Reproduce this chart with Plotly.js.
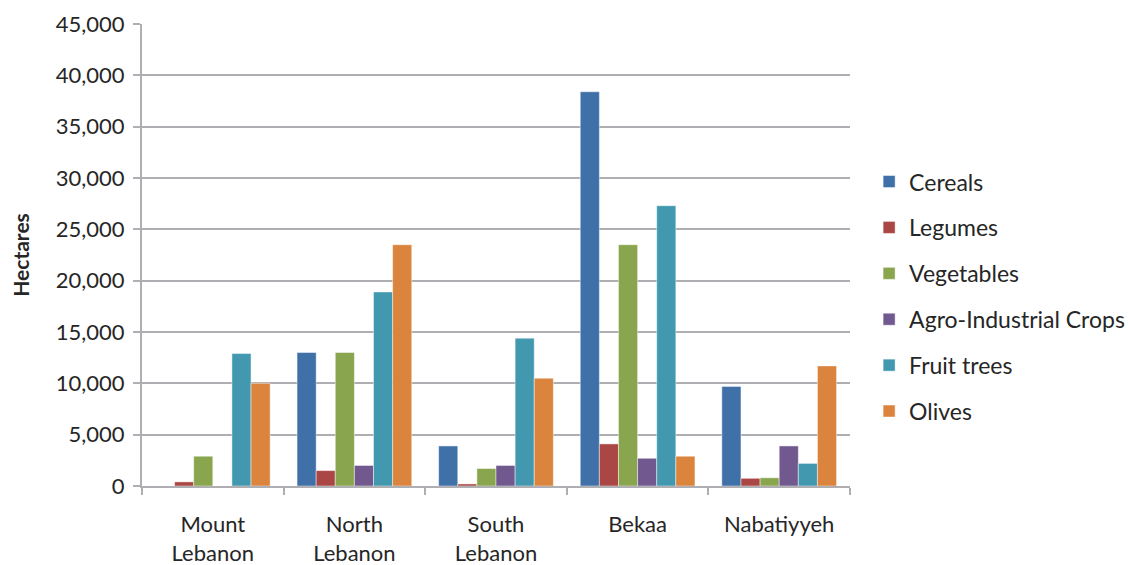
<!DOCTYPE html>
<html>
<head>
<meta charset="utf-8">
<script src="https://cdn.plot.ly/plotly-3.0.1.min.js"></script>
<style>
  html, body { margin: 0; padding: 0; background: #ffffff; }
  #chart { width: 1128px; height: 565px; }
</style>
</head>
<body>
<div id="chart"></div>
<script>
// Cultivated area by governorate and crop group (hectares)
const regions = ["Mount<br>Lebanon", "North<br>Lebanon", "South<br>Lebanon", "Bekaa", "Nabatiyyeh"];

const cereals        = [0,     13000, 3900,  38400, 9700];
const legumes        = [400,   1500,  200,   4100,  750];
const vegetables     = [2900,  13000, 1700,  23500, 800];
const agroIndustrial = [0,     2000,  2000,  2700,  3900];
const fruitTrees     = [12900, 18900, 14400, 27300, 2200];
const olives         = [10000, 23500, 10500, 2900,  11700];

const seriesNames  = ["Cereals", "Legumes", "Vegetables", "Agro-Industrial Crops", "Fruit trees", "Olives"];
const seriesValues = [cereals, legumes, vegetables, agroIndustrial, fruitTrees, olives];
const seriesColors = ["#3F70A8", "#AA4643", "#89A54E", "#71588F", "#4198AF", "#DB843D"];

const yTicks = [0, 5000, 10000, 15000, 20000, 25000, 30000, 35000, 40000, 45000];

const FONT = "Lato, 'Open Sans', sans-serif";
const TEXT = "#262626";
const GREY = "#AFAFB3";

const traces = seriesNames.map((name, i) => ({
  type: "bar",
  name: name,
  legendgroup: "g" + i,
  x: regions,
  y: seriesValues[i],
  marker: { color: seriesColors[i], line: { color: "rgba(255,255,255,0.45)", width: 1 } },
  hoverinfo: "x+y+name"
}));

const layout = {
  width: 1128,
  height: 565,
  margin: { l: 142, r: 278, t: 24, b: 79, autoexpand: false },
  paper_bgcolor: "#ffffff",
  plot_bgcolor: "#ffffff",
  font: { family: FONT, size: 22, color: TEXT },
  barmode: "group",
  bargap: 0.19,
  bargroupgap: 0,
  showlegend: true,
  legend: {
    x: 1.027, y: 0.41, xanchor: "left", yanchor: "middle",
    font: { family: FONT, size: 23, color: TEXT },
    tracegroupgap: 13,
    itemwidth: 30,
    bgcolor: "rgba(0,0,0,0)"
  },
  xaxis: {
    type: "category",
    showgrid: false,
    showline: true,
    linecolor: GREY,
    linewidth: 2,
    ticks: "outside",
    tickson: "boundaries",
    ticklen: 7,
    tickwidth: 2,
    tickcolor: GREY,
    ticklabelstandoff: 18,
    tickfont: { family: FONT, size: 22, color: TEXT },
    fixedrange: true
  },
  yaxis: {
    range: [0, 45000],
    tickvals: yTicks,
    tickformat: ",d",
    showgrid: true,
    gridcolor: GREY,
    gridwidth: 2,
    zeroline: false,
    showline: true,
    linecolor: GREY,
    linewidth: 2,
    ticks: "outside",
    ticklen: 7,
    tickwidth: 2,
    tickcolor: GREY,
    ticklabelstandoff: 4,
    tickfont: { family: FONT, size: 22, color: TEXT },
    title: { text: "Hectares", font: { family: FONT, size: 21, color: TEXT, weight: "bold" }, standoff: 20 },
    fixedrange: true
  }
};

Plotly.newPlot("chart", traces, layout, { displayModeBar: false, staticPlot: true });
</script>
</body>
</html>
